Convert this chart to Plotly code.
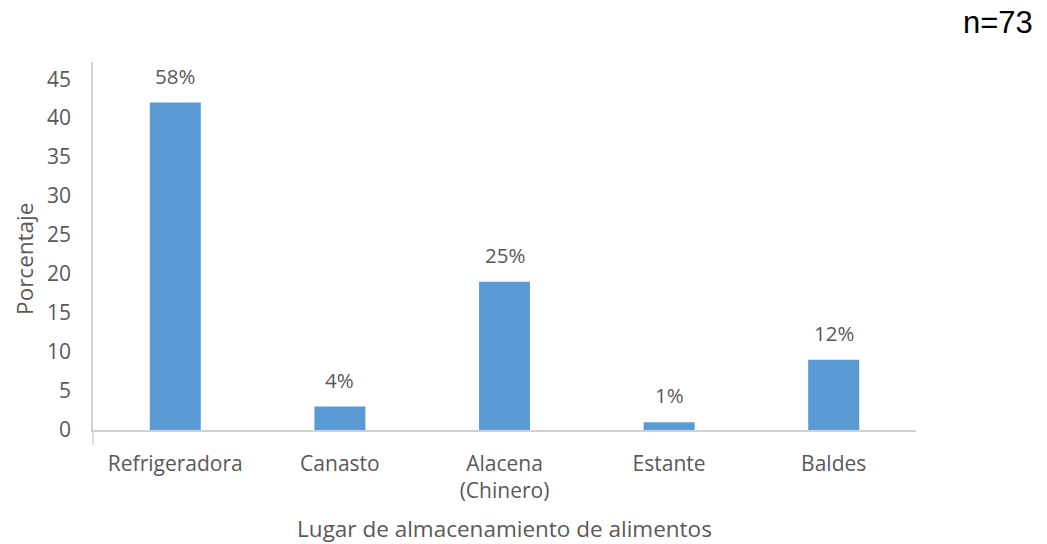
import plotly.graph_objects as go

# Food storage places and their values
categories = ["Refrigeradora", "Canasto", "Alacena<br>(Chinero)", "Estante", "Baldes"]
values = [42, 3, 19, 1, 9]
pct_labels = ["58%", "4%", "25%", "1%", "12%"]
y_ticks = [0, 5, 10, 15, 20, 25, 30, 35, 40, 45]

BAR_COLOR = "#5B9BD5"
TEXT_COLOR = "#595959"
AXIS_COLOR = "#D0D0D0"
FONT = "Open Sans, Carlito, Calibri, sans-serif"

fig = go.Figure()
fig.add_trace(go.Bar(
    x=categories,
    y=values,
    marker=dict(color=BAR_COLOR, line=dict(width=0)),
    width=0.31,
    hoverinfo="skip",
))

# Percentage labels above each bar
for cat, val, lab in zip(categories, values, pct_labels):
    fig.add_annotation(
        x=cat, y=val, text=lab, showarrow=False,
        yanchor="bottom", yshift=11,
        font=dict(family=FONT, size=20.5, color=TEXT_COLOR),
    )

# Sample size note
fig.add_annotation(
    xref="paper", yref="paper", x=1.0997, y=1.108,
    text="n=73", showarrow=False, xanchor="center", yanchor="middle",
    font=dict(family="Liberation Sans, Arial, sans-serif", size=31, color="#000000"),
)

# Vertical axis title
fig.add_annotation(
    xref="paper", yref="paper", x=-0.0826, y=0.465,
    text="Porcentaje", showarrow=False, textangle=-90,
    xanchor="center", yanchor="middle",
    font=dict(family=FONT, size=22.5, color=TEXT_COLOR),
)

# Small downward extension of the value axis below the baseline
fig.add_shape(
    type="line", xref="paper", yref="paper",
    x0=0, x1=0, y0=-0.04, y1=0,
    line=dict(color=AXIS_COLOR, width=1.5),
)

fig.update_layout(
    width=1047, height=544,
    margin=dict(l=93, r=131, t=62, b=114),
    paper_bgcolor="white", plot_bgcolor="white",
    showlegend=False,
    font=dict(family=FONT, size=21, color=TEXT_COLOR),
)
fig.update_xaxes(
    automargin=False,
    showline=True, linecolor=AXIS_COLOR, linewidth=1.5,
    ticks="", showgrid=False, zeroline=False,
    ticklabelstandoff=14,
    tickfont=dict(family=FONT, size=21, color=TEXT_COLOR),
    title=dict(text="Lugar de almacenamiento de alimentos",
               font=dict(family=FONT, size=22.5, color=TEXT_COLOR), standoff=22),
)
fig.update_yaxes(
    automargin=False,
    range=[0, 47.2], tickvals=y_ticks,
    showline=True, linecolor=AXIS_COLOR, linewidth=1.5,
    ticks="", showgrid=False, zeroline=False,
    ticklabelstandoff=16,
    tickfont=dict(family=FONT, size=21, color=TEXT_COLOR),
)

fig.write_html("out.html")
